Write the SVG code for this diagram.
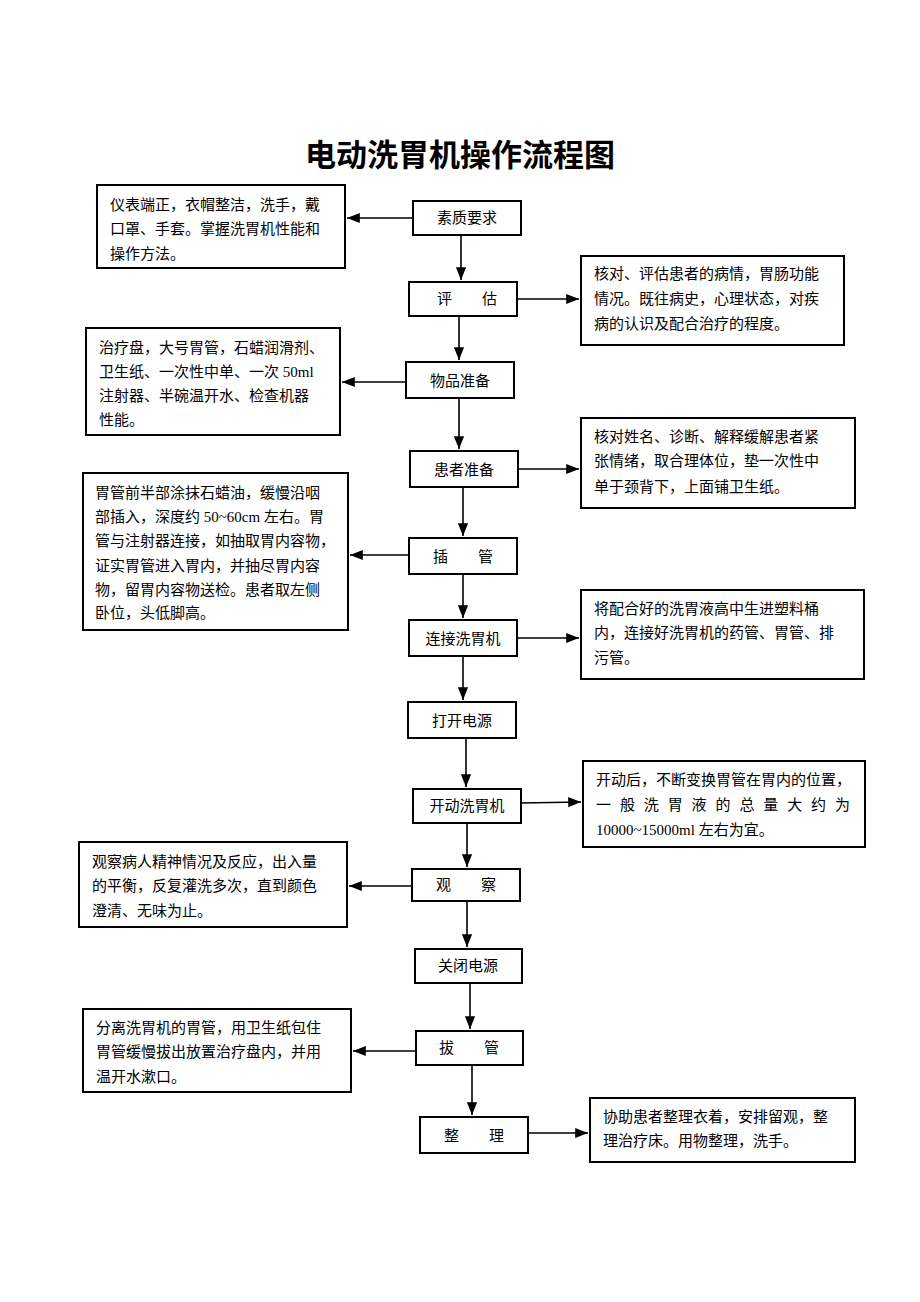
<svg xmlns="http://www.w3.org/2000/svg" width="920" height="1302" viewBox="0 0 920 1302">
<defs>
<marker id="ah" viewBox="0 0 10 10" refX="10" refY="5" markerWidth="8" markerHeight="8" orient="auto"><path d="M0,1 L10,5 L0,9 z" fill="#000"/></marker>
<style>
rect{fill:#fff;stroke:#000;stroke-width:2}
text{font-family:"Liberation Serif","Noto Sans CJK SC",serif;font-size:15px;fill:#000}
.c{text-anchor:middle}
.t{font-family:"Noto Sans CJK SC",sans-serif;font-size:31px;font-weight:bold}
line{stroke:#000;stroke-width:1.6;marker-end:url(#ah)}
</style>
</defs>
<rect x="0" y="0" width="920" height="1302" style="stroke:none"/>
<text x="460" y="166" class="c t">电动洗胃机操作流程图</text>
<g id="connectors">
<line x1="461" y1="235" x2="461" y2="280"/>
<line x1="459" y1="316" x2="459" y2="360"/>
<line x1="459" y1="398" x2="459" y2="449"/>
<line x1="463" y1="487" x2="463" y2="536"/>
<line x1="463" y1="574" x2="463" y2="618"/>
<line x1="463" y1="656" x2="463" y2="700"/>
<line x1="466" y1="738" x2="466" y2="787"/>
<line x1="467" y1="823" x2="467" y2="867"/>
<line x1="467" y1="901" x2="467" y2="947"/>
<line x1="470" y1="983" x2="470" y2="1029"/>
<line x1="472" y1="1065" x2="472" y2="1115"/>
<line x1="413" y1="218" x2="347" y2="218"/>
<line x1="517" y1="299" x2="579" y2="299"/>
<line x1="406" y1="382" x2="342" y2="382"/>
<line x1="518" y1="469" x2="579" y2="469"/>
<line x1="409" y1="555" x2="350" y2="555"/>
<line x1="517" y1="638" x2="579" y2="638"/>
<line x1="521" y1="803" x2="581" y2="802"/>
<line x1="412" y1="886" x2="349" y2="886"/>
<line x1="416" y1="1051" x2="353" y2="1051"/>
<line x1="528" y1="1133" x2="588" y2="1133"/>
</g>
<g id="n1"><rect x="413" y="201" width="108" height="34"/><text x="467" y="223" class="c">素质要求</text></g>
<g id="n2"><rect x="409" y="282" width="108" height="34"/><text x="467" y="304" class="c">评　　估</text></g>
<g id="n3"><rect x="406" y="362" width="108" height="36"/><text x="460" y="386" class="c">物品准备</text></g>
<g id="n4"><rect x="410" y="451" width="108" height="36"/><text x="464" y="475" class="c">患者准备</text></g>
<g id="n5"><rect x="409" y="538" width="108" height="36"/><text x="463" y="562" class="c">插　　管</text></g>
<g id="n6"><rect x="409" y="620" width="108" height="36"/><text x="463" y="644" class="c">连接洗胃机</text></g>
<g id="n7"><rect x="408" y="702" width="108" height="36"/><text x="462" y="726" class="c">打开电源</text></g>
<g id="n8"><rect x="413" y="789" width="108" height="34"/><text x="467" y="811" class="c">开动洗胃机</text></g>
<g id="n9"><rect x="412" y="869" width="108" height="32"/><text x="466" y="890" class="c">观　　察</text></g>
<g id="n10"><rect x="415" y="949" width="107" height="34"/><text x="468" y="971" class="c">关闭电源</text></g>
<g id="n11"><rect x="416" y="1031" width="107" height="34"/><text x="469" y="1053" class="c">拔　　管</text></g>
<g id="n12"><rect x="420" y="1117" width="108" height="36"/><text x="474" y="1141" class="c">整　　理</text></g>
<g id="l1"><rect x="97" y="185" width="248" height="83"/><text x="110" y="210">仪表端正，衣帽整洁，洗手，戴</text><text x="110" y="234">口罩、手套。掌握洗胃机性能和</text><text x="110" y="259">操作方法。</text></g>
<g id="r1"><rect x="581" y="256" width="263" height="89"/><text x="594" y="279">核对、评估患者的病情，胃肠功能</text><text x="594" y="304">情况。既往病史，心理状态，对疾</text><text x="594" y="329">病的认识及配合治疗的程度。</text></g>
<g id="l2"><rect x="86" y="328" width="254" height="107"/><text x="99" y="353">治疗盘，大号胃管，石蜡润滑剂、</text><text x="99" y="377">卫生纸、一次性中单、一次 50ml</text><text x="99" y="401">注射器、半碗温开水、检查机器</text><text x="99" y="425">性能。</text></g>
<g id="r2"><rect x="581" y="418" width="274" height="90"/><text x="594" y="442">核对姓名、诊断、解释缓解患者紧</text><text x="594" y="466">张情绪，取合理体位，垫一次性中</text><text x="594" y="492">单于颈背下，上面铺卫生纸。</text></g>
<g id="l3"><rect x="83" y="473" width="265" height="157"/><text x="95" y="498">胃管前半部涂抹石蜡油，缓慢沿咽</text><text x="95" y="522">部插入，深度约 50~60cm 左右。胃</text><text x="95" y="546">管与注射器连接，如抽取胃内容物，</text><text x="95" y="571">证实胃管进入胃内，并抽尽胃内容</text><text x="95" y="595">物，留胃内容物送检。患者取左侧</text><text x="95" y="618">卧位，头低脚高。</text></g>
<g id="r3"><rect x="581" y="590" width="283" height="89"/><text x="594" y="614">将配合好的洗胃液高中生进塑料桶</text><text x="594" y="638">内，连接好洗胃机的药管、胃管、排</text><text x="594" y="663">污管。</text></g>
<g id="r4"><rect x="583" y="761" width="282" height="86"/><text x="596" y="785">开动后，不断变换胃管在胃内的位置，</text><text x="596" y="810" textLength="254" lengthAdjust="spacing">一般洗胃液的总量大约为</text><text x="596" y="835">10000~15000ml 左右为宜。</text></g>
<g id="l4"><rect x="79" y="842" width="268" height="85"/><text x="92" y="867">观察病人精神情况及反应，出入量</text><text x="92" y="891">的平衡，反复灌洗多次，直到颜色</text><text x="92" y="916">澄清、无味为止。</text></g>
<g id="l5"><rect x="83" y="1009" width="268" height="83"/><text x="96" y="1033">分离洗胃机的胃管，用卫生纸包住</text><text x="96" y="1057">胃管缓慢拔出放置治疗盘内，并用</text><text x="96" y="1082">温开水漱口。</text></g>
<g id="r5"><rect x="590" y="1098" width="265" height="64"/><text x="603" y="1122">协助患者整理衣着，安排留观，整</text><text x="603" y="1146">理治疗床。用物整理，洗手。</text></g>
</svg>
